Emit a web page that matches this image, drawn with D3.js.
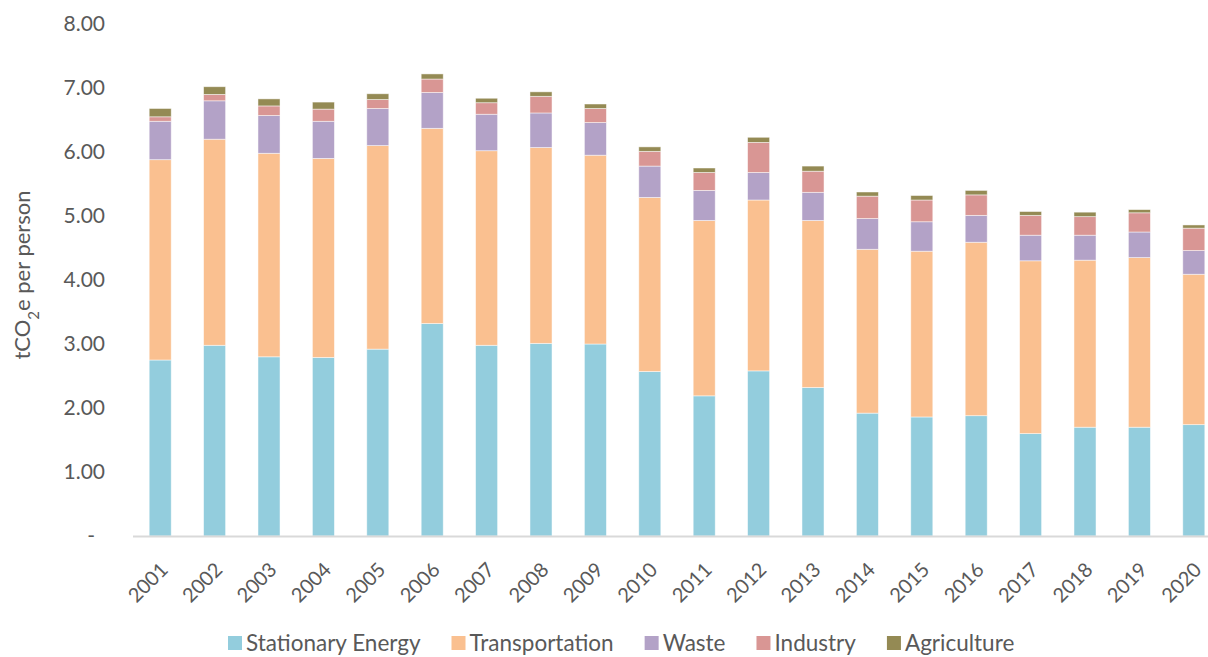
<!DOCTYPE html>
<html>
<head>
<meta charset="utf-8">
<script src="https://cdn.jsdelivr.net/npm/d3@7"></script>
<style>
    body { margin: 0; background: #fff; }
    text { font-family: Lato, "Open Sans", sans-serif; fill: #595959; }
</style>
</head>
<body>
<div id="viz_container"></div>
<script>
// data (tCO2e per person)
const years = ["2001", "2002", "2003", "2004", "2005", "2006", "2007", "2008", "2009", "2010",
    "2011", "2012", "2013", "2014", "2015", "2016", "2017", "2018", "2019", "2020"];
const sectors = ["Stationary Energy", "Transportation", "Waste", "Industry", "Agriculture"];
const stationaryEnergy = [2.75, 2.98, 2.80, 2.79, 2.92, 3.32, 2.98, 3.01, 3.00, 2.57,
    2.19, 2.58, 2.32, 1.92, 1.86, 1.88, 1.60, 1.70, 1.70, 1.74];
const transportation = [3.13, 3.22, 3.18, 3.11, 3.18, 3.05, 3.04, 3.06, 2.95, 2.72,
    2.74, 2.67, 2.61, 2.56, 2.59, 2.71, 2.70, 2.61, 2.65, 2.35];
const waste = [0.60, 0.60, 0.59, 0.58, 0.58, 0.56, 0.57, 0.54, 0.51, 0.49,
    0.47, 0.43, 0.44, 0.48, 0.46, 0.42, 0.40, 0.39, 0.40, 0.37];
const industry = [0.07, 0.10, 0.15, 0.19, 0.14, 0.21, 0.18, 0.26, 0.22, 0.23,
    0.28, 0.47, 0.33, 0.35, 0.34, 0.32, 0.31, 0.29, 0.30, 0.35];
const agriculture = [0.13, 0.12, 0.11, 0.11, 0.09, 0.08, 0.07, 0.07, 0.07, 0.07,
    0.07, 0.08, 0.08, 0.065, 0.07, 0.07, 0.06, 0.07, 0.05, 0.05];
const yTicks = [0, 1, 2, 3, 4, 5, 6, 7, 8];

const colors = ["#93CDDD", "#FAC090", "#B3A2C7", "#D99694", "#948A54"];

const width = 1208;
const height = 657;

const svg = d3.select("#viz_container")
    .append("svg")
    .attr("width", width)
    .attr("height", height);

// table for the stack
const series = [stationaryEnergy, transportation, waste, industry, agriculture];
const table = years.map((y, i) => {
    const row = { year: y };
    sectors.forEach((s, j) => row[s] = series[j][i]);
    return row;
});
const stacked = d3.stack().keys(sectors)(table);

// scales
const xScale = d3.scaleBand()
    .domain(years)
    .range([133, 1221])
    .paddingInner(0.595)
    .paddingOuter(0.2975);

const yScale = d3.scaleLinear()
    .domain([0, 8])
    .range([536, 24]);

const color = d3.scaleOrdinal()
    .domain(sectors)
    .range(colors);

// y axis labels
svg.append("g")
    .attr("transform", "translate(105,0)")
    .call(d3.axisLeft(yScale).tickValues(yTicks).tickSize(0).tickPadding(0)
        .tickFormat(d => d === 0 ? "-" : d3.format(".2f")(d)))
    .call(g => g.select(".domain").remove())
    .call(g => g.selectAll("text")
        .style("font-size", "21px")
        .attr("fill", "#595959")
        .attr("dx", d => d === 0 ? "-10px" : 0));

// bars
svg.append("g")
    .selectAll("g")
    .data(stacked)
    .join("g")
    .attr("fill", d => color(d.key))
    .selectAll("rect")
    .data(d => d)
    .join("rect")
    .attr("x", d => xScale(d.data.year))
    .attr("y", d => yScale(d[1]))
    .attr("width", xScale.bandwidth())
    .attr("height", d => yScale(d[0]) - yScale(d[1]))
    .attr("stroke", "#fff")
    .attr("stroke-opacity", 0.6)
    .attr("stroke-width", 0.8);

// x axis
svg.append("line")
    .attr("x1", 133)
    .attr("x2", width)
    .attr("y1", 536.5)
    .attr("y2", 536.5)
    .attr("stroke", "#d9d9d9")
    .attr("stroke-width", 2);

svg.append("g")
    .selectAll("text")
    .data(years)
    .join("text")
    .attr("transform", d => `translate(${xScale(d) + xScale.bandwidth() / 2 + 9},571) rotate(-45)`)
    .attr("text-anchor", "end")
    .style("font-size", "20px")
    .text(d => d);

// y axis title
svg.append("text")
    .attr("transform", "translate(30,275) rotate(-90)")
    .attr("text-anchor", "middle")
    .style("font-size", "22px")
    .html('tCO<tspan baseline-shift="sub" font-size="15px">2</tspan>e per person');

// legend
let lx = 228;
sectors.forEach(s => {
    svg.append("rect")
        .attr("x", lx)
        .attr("y", 636)
        .attr("width", 14)
        .attr("height", 14)
        .attr("fill", color(s));
    const t = svg.append("text")
        .attr("x", lx + 18)
        .attr("y", 651)
        .style("font-size", "22.5px")
        .text(s);
    lx += 18 + t.node().getComputedTextLength() + 31;
});
</script>
</body>
</html>
